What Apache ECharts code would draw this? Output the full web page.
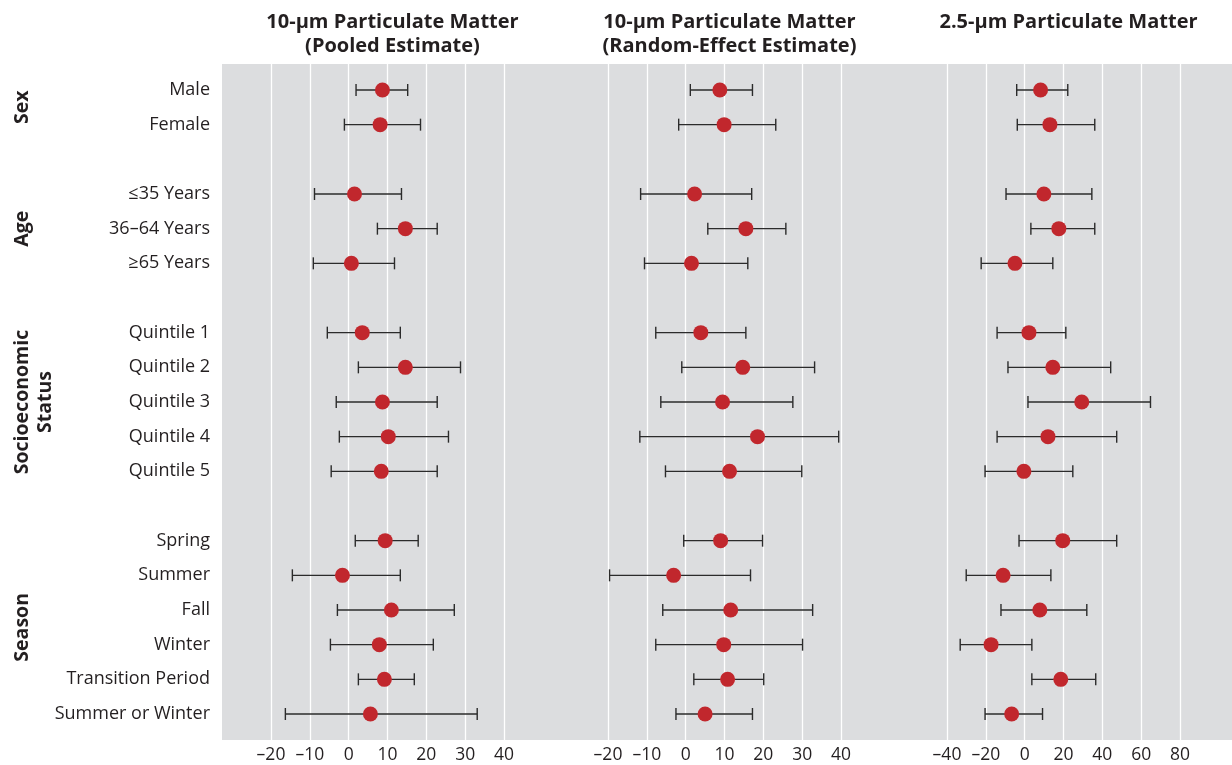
<!DOCTYPE html>
<html>
<head>
<meta charset="utf-8">
<script src="https://cdn.jsdelivr.net/npm/echarts@6/dist/echarts.min.js"></script>
<style>
  html, body { margin: 0; padding: 0; background: #fff; }
  #chart { width: 1232px; height: 765px; }
</style>
</head>
<body>
<div id="chart"></div>
<script>
// subgroups, with a blank row between groups
const groupNames = ['Sex', 'Age', 'Socioeconomic\nStatus', 'Season'];
const groupItems = [
  ['Male', 'Female'],
  ['\u226435 Years', '36\u201364 Years', '\u226565 Years'],
  ['Quintile 1', 'Quintile 2', 'Quintile 3', 'Quintile 4', 'Quintile 5'],
  ['Spring', 'Summer', 'Fall', 'Winter', 'Transition Period', 'Summer or Winter'],
];

const panelTitles = [
  '10-\u00b5m Particulate Matter\n(Pooled Estimate)',
  '10-\u00b5m Particulate Matter\n(Random-Effect Estimate)',
  '2.5-\u00b5m Particulate Matter',
];

// percent change estimates and 95% CI, in row order
const pm10PooledEst = [8.7, 8.1, 1.5, 14.6, 0.7, 3.5, 14.6, 8.7, 10.2, 8.4, 9.4, -1.6, 11.0, 7.9, 9.2, 5.6];
const pm10PooledLo = [1.9, -1.1, -8.8, 7.4, -9.1, -5.5, 2.5, -3.2, -2.4, -4.5, 1.7, -14.5, -2.9, -4.7, 2.5, -16.3];
const pm10PooledHi = [15.2, 18.5, 13.6, 22.8, 11.8, 13.3, 28.8, 22.8, 25.7, 22.8, 17.9, 13.3, 27.2, 21.8, 16.9, 33.1];

const pm10RandomEst = [8.8, 9.9, 2.3, 15.5, 1.5, 3.9, 14.7, 9.5, 18.5, 11.3, 9.0, -3.1, 11.6, 9.8, 10.8, 5.0];
const pm10RandomLo = [1.2, -1.8, -11.6, 5.7, -10.6, -7.7, -1.0, -6.4, -11.8, -5.2, -0.5, -19.6, -5.9, -7.7, 2.1, -2.5];
const pm10RandomHi = [17.2, 23.2, 17.0, 25.8, 16.0, 15.5, 33.2, 27.6, 39.4, 29.9, 19.8, 16.7, 32.7, 30.1, 20.1, 17.2];

const pm25Est = [8.2, 13.0, 9.9, 17.6, -5.0, 2.2, 14.5, 29.4, 12.0, -0.4, 19.6, -11.1, 7.8, -17.3, 18.6, -6.7];
const pm25Lo = [-4.1, -3.8, -9.6, 3.2, -22.4, -14.2, -8.6, 1.7, -14.2, -20.4, -2.9, -30.1, -12.2, -33.2, 3.7, -20.4];
const pm25Hi = [22.2, 36.1, 34.6, 36.1, 14.5, 21.2, 44.3, 64.8, 47.4, 24.8, 47.4, 13.5, 32.0, 3.7, 36.6, 9.2];

const xMin = [-20, -20, -40];
const xMax = [40, 40, 80];
const xStep = [10, 10, 20];

// build row positions
const rowLabels = [];
const rowIndex = [];
const groupCenter = [];
groupItems.forEach((items, g) => {
  if (g > 0) rowLabels.push('');
  const first = rowLabels.length;
  items.forEach((name) => {
    rowIndex.push(rowLabels.length);
    rowLabels.push(name);
  });
  groupCenter.push((first + rowLabels.length - 1) / 2);
});

const panels = [
  [pm10PooledEst, pm10PooledLo, pm10PooledHi],
  [pm10RandomEst, pm10RandomLo, pm10RandomHi],
  [pm25Est, pm25Lo, pm25Hi],
];

const font = '"Open Sans", "Noto Sans", sans-serif';
const ink = '#231f20';
const gridLeft = [271, 608, 947];
const gridWidth = 233;
const plotTop = 64;
const plotHeight = 676;

const grid = gridLeft.map((left) => ({ left, width: gridWidth, top: plotTop, height: plotHeight }));

const xAxis = gridLeft.map((_, i) => ({
  type: 'value',
  gridIndex: i,
  min: xMin[i],
  max: xMax[i],
  interval: xStep[i],
  axisLine: { show: false },
  axisTick: { show: false },
  splitLine: { show: true, lineStyle: { color: '#ffffff', width: 1.3 } },
  axisLabel: {
    margin: 6,
    fontSize: 17.5,
    fontFamily: font,
    color: ink,
    formatter: (v) => String(v).replace('-', '\u2013'),
  },
}));

const yBase = {
  type: 'value',
  inverse: true,
  min: -0.75,
  max: rowLabels.length - 0.25,
  axisLine: { show: false },
  axisTick: { show: false },
  splitLine: { show: false },
};

const yAxis = gridLeft.map((_, i) => ({
  ...yBase,
  gridIndex: i,
  axisLabel: i === 0
    ? {
        show: true,
        customValues: rowIndex,
        margin: 61,
        padding: [3, 0, 0, 0],
        fontSize: 18,
        fontFamily: font,
        color: ink,
        formatter: (v) => rowLabels[v],
      }
    : { show: false },
}));

// group labels, rotated, on an extra axis
yAxis.push({
  ...yBase,
  gridIndex: 0,
  position: 'left',
  offset: 260,
  axisLabel: {
    show: true,
    customValues: groupCenter,
    rotate: 90,
    margin: 0,
    verticalAlign: 'top',
    align: 'center',
    fontSize: 19.5,
    fontWeight: 'bold',
    lineHeight: 23,
    fontFamily: font,
    color: ink,
    formatter: (v) => groupNames[groupCenter.indexOf(v)],
  },
});

const series = [];
panels.forEach(([est, lo, hi], i) => {
  series.push({
    type: 'custom',
    xAxisIndex: i,
    yAxisIndex: i,
    encode: { x: [0, 1], y: 2 },
    data: lo.map((l, k) => [l, hi[k], rowIndex[k]]),
    renderItem: (params, api) => {
      const y = api.value(2);
      const a = api.coord([api.value(0), y]);
      const b = api.coord([api.value(1), y]);
      const cap = 6;
      const style = { stroke: '#2b2b2b', lineWidth: 1.4 };
      return {
        type: 'group',
        children: [
          { type: 'line', shape: { x1: a[0], y1: a[1], x2: b[0], y2: b[1] }, style },
          { type: 'line', shape: { x1: a[0], y1: a[1] - cap, x2: a[0], y2: a[1] + cap }, style },
          { type: 'line', shape: { x1: b[0], y1: b[1] - cap, x2: b[0], y2: b[1] + cap }, style },
        ],
      };
    },
    z: 2,
  });
  series.push({
    type: 'scatter',
    xAxisIndex: i,
    yAxisIndex: i,
    symbolSize: 15,
    itemStyle: { color: '#c1272d', opacity: 1 },
    data: est.map((v, k) => [v, rowIndex[k]]),
    z: 3,
  });
});

const title = panelTitles.map((text, i) => ({
  text,
  left: gridLeft[i] + gridWidth / 2,
  textAlign: 'center',
  top: 5,
  textStyle: {
    fontSize: 20,
    fontWeight: 'bold',
    fontFamily: font,
    color: ink,
    lineHeight: 24,
  },
}));

const chart = echarts.init(document.getElementById('chart'));
chart.setOption({
  animation: false,
  backgroundColor: '#ffffff',
  title,
  graphic: [
    {
      type: 'rect',
      z: -10,
      shape: { x: 222, y: plotTop, width: 1232 - 222, height: plotHeight },
      style: { fill: '#dcdddf' },
    },
  ],
  grid,
  xAxis,
  yAxis,
  series,
});
</script>
</body>
</html>
